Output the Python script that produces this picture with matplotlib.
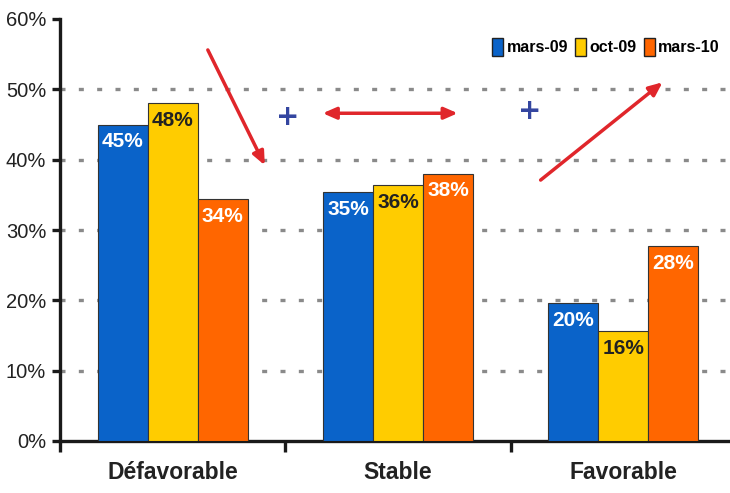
"""Opinion bar chart: mars-09 / oct-09 / mars-10."""

import matplotlib

matplotlib.use("Agg")
import matplotlib.pyplot as plt
import numpy as np

CATEGORIES = ["Défavorable", "Stable", "Favorable"]
SERIES = ["mars-09", "oct-09", "mars-10"]
MARS_09 = [45.0, 35.4, 19.6]
OCT_09 = [48.0, 36.4, 15.6]
MARS_10 = [34.4, 38.0, 27.7]
Y_TICKS = [0, 10, 20, 30, 40, 50, 60]

COLORS = ["#0a63c9", "#ffcc00", "#ff6600"]
LABEL_COLORS = ["white", "#222222", "white"]
FONT = ["Liberation Sans", "DejaVu Sans"]

plt.rcParams["font.family"] = FONT

fig = plt.figure(figsize=(7.3, 4.93), dpi=100)
ax = fig.add_axes([60 / 730, 52 / 493, 670 / 730, 422 / 493])

x = np.arange(len(CATEGORIES))
width = 0.222
values = [MARS_09, OCT_09, MARS_10]

for i, (name, vals) in enumerate(zip(SERIES, values)):
    pos = x + (i - 1) * width
    bars = ax.bar(pos, vals, width, color=COLORS[i], edgecolor="#333333",
                  linewidth=0.8, label=name, zorder=3)
    for bar, v in zip(bars, vals):
        ax.text(bar.get_x() + bar.get_width() / 2, v - 1.1, f"{v:.0f}%",
                ha="center", va="top", color=LABEL_COLORS[i],
                fontsize=15, fontweight="bold", zorder=4)

# grid
for t in Y_TICKS[1:-1]:
    ax.axhline(t, color="#8a8a8a", linewidth=2.4, dashes=(1.5, 4.0), zorder=1)

ax.set_xlim(-0.5, 2.5 - 6 / 225.5)
ax.set_ylim(0, 60)
ax.set_yticks(Y_TICKS)
ax.set_yticklabels([f"{t}%" for t in Y_TICKS], fontsize=14.5, color="#222222")
ax.set_xticks([-0.5, 0.5, 1.5])
ax.set_xticklabels([])
for xi, cat in zip(x, CATEGORIES):
    ax.text(xi, -2.8, cat, ha="center", va="top", fontsize=16.5,
            fontweight="bold", color="#222222")

for side in ["top", "right"]:
    ax.spines[side].set_visible(False)
for side in ["left", "bottom"]:
    ax.spines[side].set_linewidth(2.4)
    ax.spines[side].set_color("#1a1a1a")
ax.tick_params(axis="y", length=6, width=2.4, color="#1a1a1a", pad=4)
ax.tick_params(axis="x", length=8, width=2.4, color="#1a1a1a")

# hand-drawn annotations
red = "#e0262b"
blue = "#3446a0"
arrow = dict(arrowstyle="-|>,head_length=0.8,head_width=0.35", color=red,
             lw=2.5, shrinkA=0, shrinkB=0)
ax.annotate("", xy=(0.409, 39.2), xytext=(0.156, 55.6), arrowprops=arrow,
            annotation_clip=False)
ax.annotate("", xy=(1.265, 46.6), xytext=(0.666, 46.6),
            arrowprops=dict(arrow, arrowstyle="<|-|>,head_length=0.8,head_width=0.35"))
ax.annotate("", xy=(2.174, 51.0), xytext=(1.633, 37.1), arrowprops=arrow)
for px, py in [(0.511, 46.1), (1.584, 46.9)]:
    ax.text(px, py, "+", ha="center", va="center", color=blue, fontsize=20,
            fontweight="bold", family="DejaVu Sans")

leg = ax.legend(loc="upper right", bbox_to_anchor=(0.995, 0.935),
                bbox_transform=fig.transFigure, ncol=3, frameon=False,
                handlelength=0.7, handleheight=1.3, handletextpad=0.2,
                columnspacing=0.45, borderaxespad=0,
                prop={"family": FONT, "weight": "bold", "size": 11.5})
for h in leg.legend_handles:
    h.set_edgecolor("#222222")
    h.set_linewidth(1.0)

fig.savefig("out.png", dpi=100)
